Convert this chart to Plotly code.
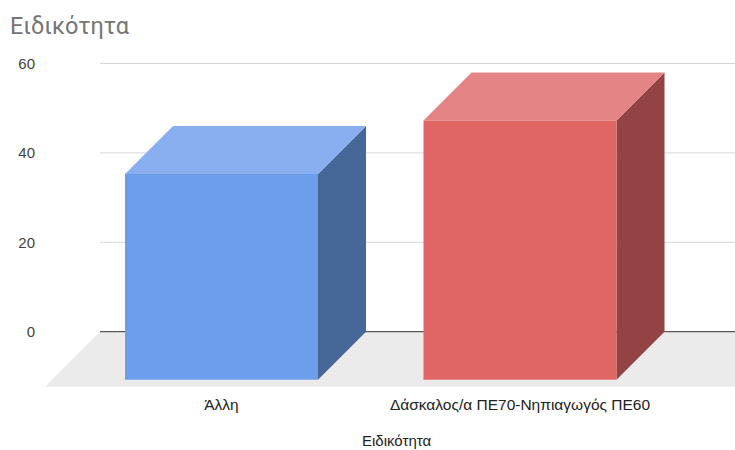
import plotly.graph_objects as go

# Data
categories = ["Άλλη", "Δάσκαλος/α ΠΕ70-Νηπιαγωγός ΠΕ60"]
values = [46, 58]
y_ticks = [0, 20, 40, 60]

front_colors = ["#6d9eeb", "#e06666"]
top_colors = ["#8aaff0", "#e58484"]
side_colors = ["#466899", "#934343"]

# Layout geometry (pixels)
W, H = 735, 450
M_L, M_R, M_T, M_B = 42, 0, 55, 63
plot_w = W - M_L - M_R
plot_h = H - M_T - M_B

# x axis: category spacing in pixels; y axis: value range
cat_px = 298.5
x0_px = 221.5 - M_L          # first category centre from plot left
x_range = [-x0_px / cat_px, (plot_w - x0_px) / cat_px]
y_min, y_max = -12.37, 61.9
px_per_val = plot_h / (y_max - y_min)

# Oblique depth (in pixels), converted into axis units
bar_depth_px = 48
floor_depth_px = 55
bar_w = 193 / cat_px
dxb, dyb = bar_depth_px / cat_px, bar_depth_px / px_per_val
dxf, dyf = floor_depth_px / cat_px, floor_depth_px / px_per_val

fig = go.Figure()

# Floor (back edge on the zero line, front edge toward the viewer)
floor_back_l = x_range[0] + dxf + 3 / cat_px
floor_back_r = x_range[1] + 0.2
fig.add_trace(go.Scatter(
    x=[floor_back_l, floor_back_r, floor_back_r - dxf, floor_back_l - dxf, floor_back_l],
    y=[0, 0, -dyf, -dyf, 0],
    fill="toself", fillcolor="#ebebeb", line=dict(width=0),
    mode="lines", hoverinfo="skip", showlegend=False))

# Gridlines on the back wall
for t in y_ticks:
    fig.add_trace(go.Scatter(
        x=[floor_back_l, x_range[1]], y=[t, t], mode="lines",
        line=dict(color="#333333" if t == 0 else "#d6d6d6", width=1),
        hoverinfo="skip", showlegend=False))

# 3D bars
for i, (v, fc, tc, sc) in enumerate(zip(values, front_colors, top_colors, side_colors)):
    xl, xr = i - bar_w / 2, i + bar_w / 2
    yb, yt = -dyb, v - dyb
    # side face
    fig.add_trace(go.Scatter(
        x=[xr, xr + dxb, xr + dxb, xr, xr], y=[yb, 0, v, yt, yb],
        fill="toself", fillcolor=sc, line=dict(width=0), mode="lines",
        hoverinfo="skip", showlegend=False))
    # top face
    fig.add_trace(go.Scatter(
        x=[xl, xr, xr + dxb, xl + dxb, xl], y=[yt, yt, v, v, yt],
        fill="toself", fillcolor=tc, line=dict(width=0), mode="lines",
        hoverinfo="skip", showlegend=False))
    # front face
    fig.add_trace(go.Scatter(
        x=[xl, xr, xr, xl, xl], y=[yb, yb, yt, yt, yb],
        fill="toself", fillcolor=fc, line=dict(width=0), mode="lines",
        hoverinfo="skip", showlegend=False))

fig.update_layout(
    width=W, height=H,
    margin=dict(l=M_L, r=M_R, t=M_T, b=M_B),
    paper_bgcolor="white", plot_bgcolor="white",
    font=dict(family="Arial, Liberation Sans, sans-serif", size=15, color="#222222"),
    title=dict(text="Ειδικότητα", x=0, xanchor="left",
               y=1, yref="container", yanchor="top", pad=dict(l=10, t=18),
               font=dict(family="Roboto, Arial, sans-serif", size=23.5, color="#757575")),
    xaxis=dict(range=x_range, tickvals=list(range(len(categories))), ticktext=categories,
               showgrid=False, zeroline=False, showline=False,
               ticks="outside", ticklen=3, tickcolor="rgba(0,0,0,0)",
               tickfont=dict(size=15.5, color="#222222"), fixedrange=True),
    yaxis=dict(range=[y_min, y_max], tickvals=y_ticks, showgrid=False, zeroline=False,
               showline=False, ticks="outside", ticklen=3, tickcolor="rgba(0,0,0,0)",
               tickfont=dict(size=15, color="#444444"), fixedrange=True),
    annotations=[dict(text="Ειδικότητα", xref="paper", yref="paper",
                      x=(396 - M_L) / plot_w, y=-(440 - (H - M_B)) / plot_h,
                      xanchor="center", yanchor="middle", showarrow=False,
                      font=dict(size=15, color="#222222"))],
)
fig.update_layout(title_xref="container")

fig.write_html("out.html")
